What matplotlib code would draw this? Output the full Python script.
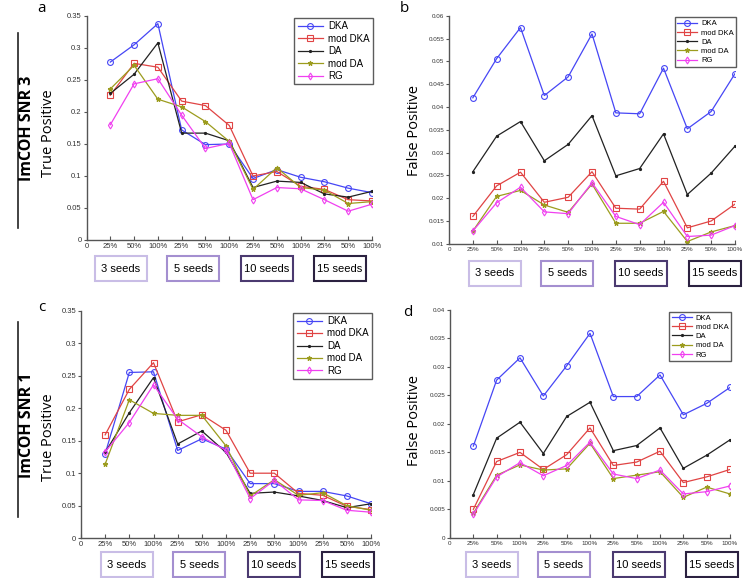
import matplotlib
matplotlib.use("Agg")
import matplotlib.pyplot as plt
from matplotlib.patches import Rectangle
from matplotlib.lines import Line2D

series = ["DKA", "mod DKA", "DA", "mod DA", "RG"]
xlabels = ["0"] + ["25%", "50%", "100%"] * 4
seeds = ["3 seeds", "5 seeds", "10 seeds", "15 seeds"]

# panel a: ImCOH SNR 3, true positive
tp3_dka = [0.278, 0.305, 0.338, 0.172, 0.149, 0.150, 0.096, 0.110, 0.098, 0.091, 0.081, 0.074]
tp3_moddka = [0.226, 0.276, 0.270, 0.217, 0.210, 0.179, 0.100, 0.107, 0.084, 0.079, 0.063, 0.061]
tp3_da = [0.229, 0.259, 0.308, 0.167, 0.167, 0.155, 0.082, 0.092, 0.090, 0.072, 0.067, 0.076]
tp3_modda = [0.236, 0.273, 0.220, 0.208, 0.185, 0.154, 0.079, 0.113, 0.082, 0.078, 0.057, 0.060]
tp3_rg = [0.180, 0.244, 0.252, 0.195, 0.143, 0.151, 0.063, 0.082, 0.080, 0.063, 0.045, 0.056]

# panel b: ImCOH SNR 3, false positive
fp3_dka = [0.0420, 0.0506, 0.0574, 0.0425, 0.0466, 0.0560, 0.0387, 0.0385, 0.0485, 0.0352, 0.0390, 0.0473]
fp3_moddka = [0.0160, 0.0227, 0.0257, 0.0191, 0.0202, 0.0258, 0.0178, 0.0176, 0.0237, 0.0135, 0.0150, 0.0187]
fp3_da = [0.0258, 0.0336, 0.0368, 0.0282, 0.0318, 0.0381, 0.0249, 0.0265, 0.0341, 0.0208, 0.0255, 0.0314]
fp3_modda = [0.0128, 0.0204, 0.0217, 0.0185, 0.0169, 0.0231, 0.0145, 0.0145, 0.0171, 0.0105, 0.0126, 0.0140]
fp3_rg = [0.0128, 0.0190, 0.0224, 0.0170, 0.0166, 0.0234, 0.0160, 0.0142, 0.0191, 0.0116, 0.0119, 0.0140]

# panel c: ImCOH SNR 1, true positive
tp1_dka = [0.130, 0.255, 0.256, 0.135, 0.153, 0.137, 0.084, 0.084, 0.072, 0.072, 0.065, 0.053]
tp1_moddka = [0.159, 0.229, 0.270, 0.179, 0.190, 0.166, 0.100, 0.100, 0.069, 0.066, 0.049, 0.044]
tp1_da = [0.132, 0.193, 0.247, 0.145, 0.165, 0.132, 0.069, 0.071, 0.065, 0.058, 0.047, 0.053]
tp1_modda = [0.114, 0.213, 0.192, 0.189, 0.189, 0.142, 0.065, 0.090, 0.066, 0.070, 0.050, 0.043]
tp1_rg = [0.133, 0.178, 0.236, 0.183, 0.156, 0.135, 0.061, 0.089, 0.059, 0.058, 0.043, 0.040]

# panel d: ImCOH SNR 1, false positive
fp1_dka = [0.0161, 0.0277, 0.0316, 0.0249, 0.0302, 0.0359, 0.0248, 0.0248, 0.0286, 0.0216, 0.0236, 0.0264]
fp1_moddka = [0.0050, 0.0134, 0.0150, 0.0120, 0.0146, 0.0193, 0.0127, 0.0133, 0.0152, 0.0097, 0.0107, 0.0120]
fp1_da = [0.0076, 0.0175, 0.0203, 0.0148, 0.0213, 0.0238, 0.0153, 0.0162, 0.0193, 0.0122, 0.0145, 0.0172]
fp1_modda = [0.0043, 0.0110, 0.0128, 0.0119, 0.0121, 0.0166, 0.0104, 0.0110, 0.0116, 0.0071, 0.0089, 0.0077]
fp1_rg = [0.0041, 0.0107, 0.0132, 0.0109, 0.0127, 0.0168, 0.0112, 0.0104, 0.0119, 0.0077, 0.0081, 0.0091]

colors = ["#4646f5", "#e04444", "#222222", "#9c9c1e", "#f040f0"]
markers = ["o", "s", ".", "*", "d"]
msizes = [4.2, 4.2, 3, 3.5, 3.5]
fills = ["none", "none", "full", "full", "none"]

fig = plt.figure(figsize=(7.45, 5.78), dpi=100)
W, H = 745.0, 578.0
tick_family = "Liberation Sans"


def axes_px(l, t, r, b):
    return fig.add_axes([l / W, 1 - b / H, (r - l) / W, (b - t) / H])


def draw_panel(ax, data, ylim, yticks, ylabels, tick_fs, leg_fs):
    x = list(range(1, 13))
    for vals, name, c, m, ms, f in zip(data, series, colors, markers, msizes, fills):
        ax.plot(x, vals, color=c, marker=m, markersize=ms, lw=0.9, label=name,
                markerfacecolor="none" if f == "none" else c, markeredgewidth=0.8)
    ax.set_xlim(0, 12)
    ax.set_ylim(*ylim)
    ax.set_xticks(range(13))
    ax.set_xticklabels(xlabels, fontsize=tick_fs, color="#333333", family=tick_family)
    ax.set_yticks(yticks)
    ax.set_yticklabels(ylabels, fontsize=tick_fs, color="#333333", family=tick_family)
    ax.tick_params(axis="x", direction="in", length=3, width=0.8, color="#555555", pad=2)
    ax.tick_params(axis="y", direction="out", length=2, width=0.8, color="#555555", pad=1.5)
    for s in ["top", "right"]:
        ax.spines[s].set_visible(False)
    for s in ["left", "bottom"]:
        ax.spines[s].set_color("#555555")
        ax.spines[s].set_linewidth(1.0)
    leg = ax.legend(loc="upper right", bbox_to_anchor=(1.01, 1.0),
                    prop={"family": tick_family, "size": leg_fs},
                    fancybox=False, edgecolor="#333333", handlelength=2.6,
                    borderpad=0.35, labelspacing=0.25, handletextpad=0.5,
                    borderaxespad=0.2)
    leg.get_frame().set_linewidth(1.0)


ax_a = axes_px(86.5, 16, 372, 240)
draw_panel(ax_a, [tp3_dka, tp3_moddka, tp3_da, tp3_modda, tp3_rg], (0, 0.35),
           [0, 0.05, 0.1, 0.15, 0.2, 0.25, 0.3, 0.35],
           ["0", "0.05", "0.1", "0.15", "0.2", "0.25", "0.3", "0.35"], 5.5, 7)

ax_b = axes_px(449, 15.7, 735, 243.8)
draw_panel(ax_b, [fp3_dka, fp3_moddka, fp3_da, fp3_modda, fp3_rg], (0.01, 0.06),
           [0.01, 0.015, 0.02, 0.025, 0.03, 0.035, 0.04, 0.045, 0.05, 0.055, 0.06],
           ["0.01", "0.015", "0.02", "0.025", "0.03", "0.035", "0.04", "0.045", "0.05", "0.055", "0.06"],
           4.5, 5.5)

ax_c = axes_px(81, 310.7, 371, 538.2)
draw_panel(ax_c, [tp1_dka, tp1_moddka, tp1_da, tp1_modda, tp1_rg], (0, 0.35),
           [0, 0.05, 0.1, 0.15, 0.2, 0.25, 0.3, 0.35],
           ["0", "0.05", "0.1", "0.15", "0.2", "0.25", "0.3", "0.35"], 5.5, 7)

ax_d = axes_px(450, 310, 730, 537.8)
draw_panel(ax_d, [fp1_dka, fp1_moddka, fp1_da, fp1_modda, fp1_rg], (0, 0.04),
           [0, 0.005, 0.01, 0.015, 0.02, 0.025, 0.03, 0.035, 0.04],
           ["0", "0.005", "0.01", "0.015", "0.02", "0.025", "0.03", "0.035", "0.04"], 4.5, 5.5)

# seed boxes under each panel
box_edges = ["#c9bde6", "#a48fd0", "#4b3a70", "#2b2140"]
rows = [
    ([95, 167, 241, 314], 52, 256, 281),
    ([469, 541, 615, 689], 52, 261, 286),
    ([101, 173, 248, 322], 52, 552, 577),
    ([466, 538, 613, 686], 52, 552, 577),
]
for lefts, bw, top, bot in rows:
    for lx, lab, ec in zip(lefts, seeds, box_edges):
        fig.patches.append(Rectangle((lx / W, 1 - bot / H), bw / W, (bot - top) / H,
                                     transform=fig.transFigure, fill=False,
                                     edgecolor=ec, linewidth=1.5))
        fig.text((lx + bw / 2) / W, 1 - (top + bot) / 2 / H, lab, ha="center",
                 va="center", fontsize=8, family=tick_family)

# side labels
lab_font = "Open Sans"
fig.text(27 / W, 1 - 128 / H, "ImCOH SNR 3", rotation=90, ha="center", va="center",
         fontsize=11.5, fontweight="bold", family=lab_font)
fig.text(27 / W, 1 - 425 / H, "ImCOH SNR 1", rotation=90, ha="center", va="center",
         fontsize=11.5, fontweight="bold", family=lab_font)
fig.add_artist(Line2D([17.7 / W, 17.7 / W], [1 - 33 / H, 1 - 228 / H], color="#222222", lw=1.2))
fig.add_artist(Line2D([17.7 / W, 17.7 / W], [1 - 322 / H, 1 - 517 / H], color="#222222", lw=1.2))

fig.text(48 / W, 1 - 133 / H, "True Positive", rotation=90, ha="center", va="center",
         fontsize=10.5, family=lab_font)
fig.text(48 / W, 1 - 437 / H, "True Positive", rotation=90, ha="center", va="center",
         fontsize=10.5, family=lab_font)
fig.text(415 / W, 1 - 130 / H, "False Positive", rotation=90, ha="center", va="center",
         fontsize=10.5, family=lab_font)
fig.text(415 / W, 1 - 420 / H, "False Positive", rotation=90, ha="center", va="center",
         fontsize=10.5, family=lab_font)

fig.text(42 / W, 1 - 9 / H, "a", ha="center", va="center", fontsize=11, family=lab_font)
fig.text(404 / W, 1 - 8 / H, "b", ha="center", va="center", fontsize=11, family=lab_font)
fig.text(42 / W, 1 - 308 / H, "c", ha="center", va="center", fontsize=11, family=lab_font)
fig.text(408 / W, 1 - 312 / H, "d", ha="center", va="center", fontsize=11, family=lab_font)

fig.savefig("out.png", dpi=100)
